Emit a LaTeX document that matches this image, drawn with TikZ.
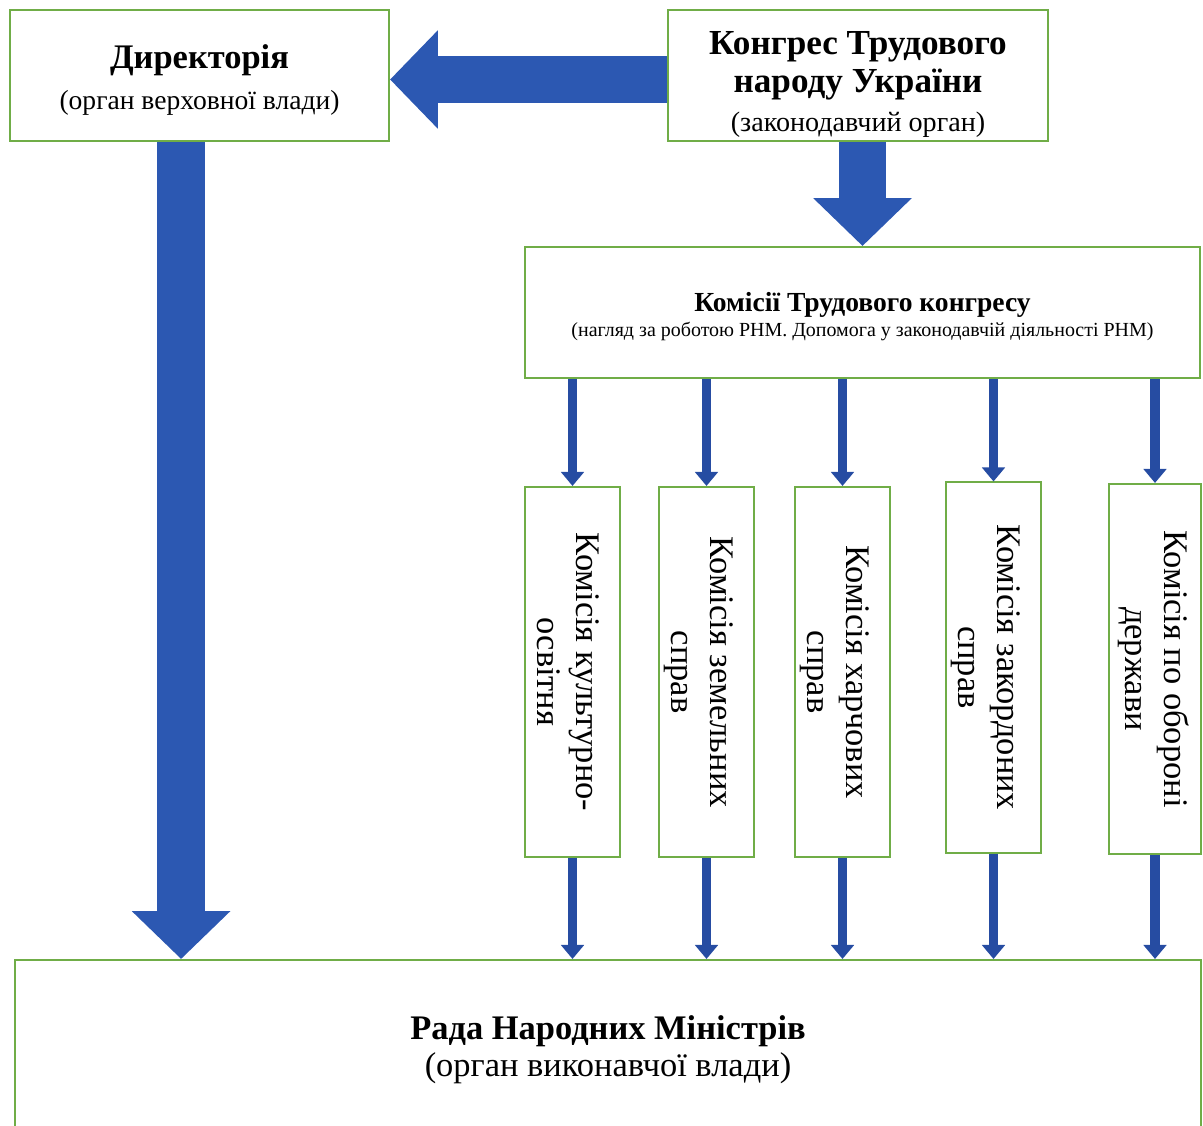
\documentclass[tikz,border=0pt]{standalone}
\usepackage{fontspec}
\setmainfont{Liberation Serif}
\usetikzlibrary{arrows.meta}
\definecolor{boxgreen}{RGB}{112,173,71}
\definecolor{arrblue}{RGB}{44,88,178}
\definecolor{arrdark}{RGB}{38,76,162}
\newcommand{\vlabel}[2][0.49cm]{\rotatebox{-90}{\parbox[c][2.3cm][t]{9.1cm}{\centering\vspace*{#1}\fontsize{24.5}{27.5}\selectfont #2}}}

\begin{document}
\begin{tikzpicture}[x=0.025cm, y=-0.025cm, main/.style = {draw=boxgreen, line width=1.4pt, fill=white, align=center, inner sep=0pt}, comm/.style = {main, minimum width=2.375cm, minimum height=9.25cm}, bigarr/.style = {arrblue, line width=34pt, -{Triangle[width=68pt, length=34pt]}}, smallarr/.style = {arrdark, line width=7pt, -{Triangle[width=16pt, length=10pt]}}]
    \useasboundingbox (0,0) rectangle (1203,1125);
    \node[main, minimum width=9.475cm, minimum height=3.275cm] (Dir) at (199.5,75.5) {\rule{0pt}{23pt}\fontsize{24.5}{28}\selectfont\bfseries Директорія\\[9.5pt]\fontsize{19.6}{23}\selectfont(орган верховної влади)};
    \node[main, minimum width=9.5cm, minimum height=3.275cm] (Kon) at (858,75.5) {\rule{0pt}{29pt}\fontsize{25}{26}\selectfont\bfseries Конгрес Трудового\\[4.3pt]\fontsize{25}{26}\selectfont\bfseries народу України\\[7.5pt]\fontsize{20}{24}\selectfont(законодавчий орган)};
    \node[main, minimum width=16.875cm, minimum height=3.275cm] (Kom) at (862.5,312.5) {\rule{0pt}{19.5pt}\fontsize{19.6}{20}\selectfont\bfseries Комісії Трудового конгресу\\[3pt]\fontsize{14.2}{17}\selectfont(нагляд за роботою РНМ. Допомога у законодавчій діяльності РНМ)};
    \node[comm] (K1) at (572.5,672) {\vlabel{Комісія культурно-\\освітня}};
    \node[comm] (K2) at (706.5,672) {\vlabel{Комісія земельних\\справ}};
    \node[comm] (K3) at (842.5,672) {\vlabel{Комісія харчових\\справ}};
    \node[comm] (K4) at (993.5,667.5) {\vlabel{Комісія закордоних\\справ}};
    \node[comm, minimum width=2.3cm] (K5) at (1155,669) {\vlabel[0.3cm]{Комісія по обороні\\держави}};
    \node[main, minimum width=29.65cm, minimum height=4.5cm] (Rada) at (608,1050) {\fontsize{24.5}{27}\selectfont\bfseries Рада Народних Міністрів\\[3pt]\fontsize{24.5}{27}\selectfont(орган виконавчої влади)};
    % big arrows
    \draw[bigarr] ([yshift=-0.1cm]Kon.west) -- ([yshift=-0.1cm]Dir.east);
    \draw[bigarr] (Kom.north |- Kon.south) -- (Kom.north);
    \draw[bigarr] ([xshift=-0.46cm]Dir.south) -- ([xshift=-0.46cm]Dir.south |- Rada.north);
    % commissions
    \foreach \k in {K1,K2,K3,K4,K5} {
        \draw[smallarr] (\k.north |- Kom.south) -- (\k.north);
        \draw[smallarr] (\k.south) -- (\k.south |- Rada.north);
    }
\end{tikzpicture}
\end{document}
